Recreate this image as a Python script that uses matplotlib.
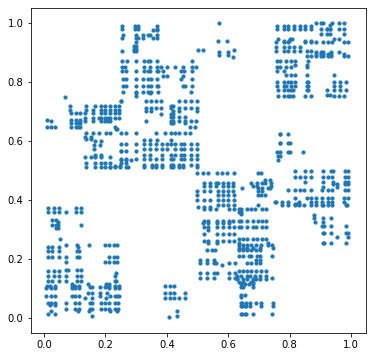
import numpy as np
import matplotlib
matplotlib.use('Agg')
import matplotlib.pyplot as plt

# each block: one y value per row, and the x values found on that row
low_left_y = [.372, .358, .332, .327, .316, .305, .267, .247, .24, .229, .207, .19, .164, .159, .152,
              .142, .125, .116, .11, .107, .103, .085, .076, .069, .051, .045, .03, .026, .0135, .007]
low_left_x = [
    [.013, .031, .049, .105, .119],
    [.013, .031, .049, .072, .105, .119],
    [.027, .040],
    [.046],
    [.027, .040, .046, .119],
    [.040, .046],
    [.052],
    [.072, .108, .148, .200, .211, .227, .239],
    [.013, .027, .049, .111],
    [.013, .027, .049, .108, .114],
    [.013, .027, .049, .072, .108, .114, .211, .227, .239],
    [.072, .200, .211, .227, .239],
    [.072, .079, .108, .119],
    [.013, .031, .049],
    [.236],
    [.013, .031, .049, .072, .108, .119, .230],
    [.013, .027, .049, .072, .108, .119, .230, .236],
    [.090, .144, .203, .213],
    [.010, .021, .037, .090, .101, .114, .205, .213, .230, .244],
    [.157, .151, .181, .200],
    [.008, .023, .037, .090, .101, .114, .213, .230, .244],
    [.144, .157, .181, .205],
    [.008, .023, .037, .090, .101, .114, .181, .215, .230, .244, .239],
    [.157, .134, .203],
    [.013, .037, .023, .072, .101, .114, .151, .157, .184, .200, .213, .230, .242],
    [.019, .037],
    [.072, .101, .114, .151, .157, .184, .200, .213, .230, .242],
    [.023, .111, .148, .215, .239],
    [.013, .037],
    [.157],
]

mid_left_y = [.748, .735, .72, .719, .705, .694, .678, .672, .667, .66, .647, .642, .626, .612, .608, .601,
              .586, .572, .565, .552, .545, .536, .525, .516, .511]
mid_left_x = [
    [.068],
    [.251],
    [.137, .166, .186, .199, .215, .231, .244],
    [.085],
    [.085, .137, .160, .186, .199, .215, .231, .244],
    [.088, .104, .117, .134, .160, .186, .199, .215, .231, .244],
    [.134, .160, .179, .186, .199, .208, .215, .231, .244],
    [.010, .088, .104, .117],
    [.023, .134, .160, .186, .199, .208, .215],
    [.088, .104, .114, .117],
    [.010, .023, .036, .088, .104, .111, .117, .231],
    [.238, .235],
    [.137, .160, .179, .202, .215],
    [.134, .153],
    [.137, .153],
    [.166, .186],
    [.163, .183],
    [.163],
    [.251],
    [.166, .186],
    [.134, .153, .166, .186, .215],
    [.251, .267, .284],
    [.137, .166, .186, .199, .215, .252, .267],
    [.231, .248],
    [.137, .166, .186, .199, .215, .248, .267, .274],
]

upper_mid_y = [.999, .99, .98, .974, .96, .948, .938, .934, .92, .911, .909, .903, .901, .891, .884, .869, .85, .837,
               .82, .811, .785, .767, .762, .752, .736, .719, .71, .70, .692, .681, .667, .661, .647, .626,
               .604, .589, .572, .565, .552, .539, .52, .513, .491]
upper_mid_x = [
    [.571],
    [.255, .296, .307, .369],
    [.255, .296, .307, .369],
    [.356, .369],
    [.258, .298, .324, .340, .346, .369],
    [.255, .298, .307, .324, .356, .369],
    [.568, .597],
    [.301],
    [.294, .301],
    [.294, .301],
    [.503, .519, .620],
    [.255, .294, .301],
    [.571, .600],
    [.571, .600],
    [.617],
    [.255, .269, .301, .327, .340, .346, .369, .483],
    [.255, .265, .327, .346, .369, .382, .402, .428, .454, .483, .496],
    [.255, .268, .298, .327, .340, .346, .369, .372, .389, .447, .457, .483],
    [.389, .402, .454],
    [.258, .268, .298, .324, .340, .350, .369, .447, .483],
    [.258, .268, .298, .324, .340, .350, .369, .372, .454, .460, .483],
    [.258, .298, .324, .340, .350, .372, .480],
    [.298, .346],
    [.298],
    [.252, .333, .350, .366, .382, .438, .460, .480, .499],
    [.415, .421],
    [.333, .350, .366, .382, .415, .438, .460, .480, .499],
    [.333, .350, .421, .438, .499],
    [.382, .415, .421],
    [.415, .421, .438, .460],
    [.333, .415, .421, .438, .460, .480, .496],
    [.415, .421, .460],
    [.477, .493],
    [.252, .268, .301, .366, .395, .412, .428, .441, .460, .477],
    [.327, .346, .369, .415],
    [.252, .268, .301, .327, .346, .366, .385, .402, .415, .428, .447, .457, .480, .499],
    [.327, .346, .366, .385, .402, .428, .447, .457, .480, .499],
    [.252, .268, .301],
    [.327, .346, .385, .415, .428, .447, .457, .480, .499],
    [.252, .268, .301, .327, .346, .366, .385, .412, .421, .447, .457, .480, .499],
    [.327, .353, .366, .385, .412, .421, .441, .454, .480, .499],
    [.215, .232, .327, .353, .366, .385, .412, .421, .441, .454, .499],
    [.499, .519, .535, .565, .581, .597, .618, .698, .708],
]

low_mid_y = [.468, .457, .448, .441, .431, .418, .40, .393, .384, .378, .369, .358, .352, .33, .322, .31, .30, .284,
             .267, .26, .254, .248, .239, .23, .21, .198, .188, .179, .159, .152, .144, .137, .132, .122, .117,
             .109, .106, .087, .079, .071, .07, .05, .04, .024, .0135, .007, .003]
low_mid_x = [
    [.721, .737],
    [.522, .539, .561, .568, .584, .600, .617, .675, .695, .711, .721, .740],
    [.522, .539, .561, .584, .600, .617, .679, .695, .740],
    [.646, .698, .711, .728, .737],
    [.499, .522, .539, .568, .584, .600, .617, .698, .711],
    [.499, .568, .584, .600, .620, .698, .708, .721],
    [.499, .522, .539, .568, .584, .600, .620],
    [.753],
    [.568, .584, .600, .620, .698],
    [.503, .522, .539],
    [.522, .539, .561, .604, .620, .636, .643, .662, .675, .688, .711, .724],
    [.636, .643],
    [.643],
    [.522, .535, .565, .584, .604, .617, .636, .643, .662, .679, .698, .711, .724],
    [.519, .535, .565, .584, .604],
    [.522, .535, .565, .584, .604, .620, .636, .643, .662, .679, .692, .711, .724],
    [.535],
    [.522, .565, .584, .604, .620],
    [.636, .649, .662, .679, .695, .711, .724],
    [.522, .535, .565, .584, .604, .620],
    [.535, .565, .636, .731],
    [.636, .649, .662, .675, .692, .708, .731, .744],
    [.636, .649, .662, .679, .705, .747],
    [.532, .548, .558, .636, .649, .662, .675, .692, .705],
    [.636, .649, .669, .675, .695, .705, .744],
    [.508, .532, .555, .692, .705],
    [.508, .532, .555, .561, .604, .623, .662, .675, .692, .705],
    [.581],
    [.636, .649, .662, .675, .692, .708, .724],
    [.508, .532, .555, .565, .604, .623],
    [.630, .643, .662, .672, .688, .705, .724],
    [.508, .532, .555, .604, .623, .630, .744],
    [.630, .649, .662, .679, .692, .705, .724],
    [.636, .649, .675, .682],
    [.643, .653, .666, .682],
    [.395, .411, .424],
    [.643, .649, .682],
    [.395, .411, .424, .460],
    [.640, .656],
    [.640],
    [.395, .411, .424, .441, .460],
    [.640, .646, .659, .672, .692, .708, .747],
    [.640, .646, .653, .659, .672, .708, .747],
    [.434],
    [.640, .646, .653, .659, .682, .744],
    [.434],
    [.408],
]

top_right_y = [.999, .993, .988, .98, .978, .963, .945, .94, .934, .918, .905, .90, .893, .887, .871, .858, .85,
               .836, .823, .80, .785, .772, .755, .752]
top_right_x = [
    [.887, .903, .910, .939, .962, .978],
    [.933],
    [.760, .780, .796, .815, .835, .851, .868],
    [.760, .780, .796, .815, .835, .851, .868, .923, .933],
    [.903, .920, .930, .962, .978],
    [.903, .920, .930, .978],
    [.763, .809, .802, .946, .962],
    [.780, .799, .851, .871],
    [.754, .780, .796, .851, .871, .887, .907, .926, .939, .978, .991],
    [.754, .780, .799, .815, .835],
    [.754, .780, .796, .815, .835, .855, .871],
    [.887, .903, .910, .936, .962],
    [.887, .903, .910, .926, .936, .978],
    [.855, .871, .887, .903, .910, .926, .936, .978, .991],
    [.760, .770, .789, .805, .819, .861],
    [.819, .858],
    [.760, .770, .789, .805, .858],
    [.760, .783],
    [.789, .805, .819, .858, .943],
    [.760, .783, .793, .805, .819, .855, .861, .946, .965, .982],
    [.760, .783, .789, .805, .819, .855, .861, .946, .965],
    [.763, .783, .796, .805, .812, .855, .861, .923, .946, .965, .982],
    [.920, .930],
    [.763, .780, .796, .802, .812, .851, .871, .946, .962, .978],
]

right_y = [.623, .593, .562, .549, .535, .498, .477, .46, .453, .444, .434, .406, .394, .388, .383, .35, .339, .325,
           .311, .288, .274, .254]
right_x = [
    [.767, .770, .793],
    [.767, .770, .793, .802],
    [.760, .770, .793, .802, .842],
    [.763, .767],
    [.763],
    [.819, .851, .871, .907, .936, .942, .981, .991],
    [.819, .835, .851, .871, .907, .926, .939, .981, .991],
    [.851, .907, .942, .981, .991],
    [.942, .955, .981, .991],
    [.907, .955],
    [.796, .819, .835, .848, .871, .904, .926, .939, .981, .991],
    [.819, .855, .871, .887, .904, .926, .939, .978, .991],
    [.754, .776, .796, .832, .871, .887, .904, .926, .939, .978],
    [.819, .825, .832],
    [.776, .796, .819, .832, .848, .871, .887, .904, .910, .926, .939, .985, .988],
    [.878],
    [.878, .910, .936],
    [.881, .910],
    [.904, .913, .936, .985],
    [.907, .913, .936, .985, .991],
    [.955, .991],
    [.907, .913, .936, .985],
]


def flatten(row_y, row_x):
    ys = np.repeat(row_y, [len(r) for r in row_x])
    xs = np.concatenate(row_x)
    return xs, ys


x_parts, y_parts = [], []
for row_y, row_x in [(low_left_y, low_left_x), (mid_left_y, mid_left_x), (upper_mid_y, upper_mid_x),
                     (low_mid_y, low_mid_x), (top_right_y, top_right_x), (right_y, right_x)]:
    xs, ys = flatten(row_y, row_x)
    x_parts.append(xs)
    y_parts.append(ys)

fig = plt.figure(figsize=(372 / 72, 357 / 72), dpi=72)
ax = fig.add_axes([30.5 / 372, (357 - 333) / 357, 335 / 372, 325 / 357])
ax.scatter(np.concatenate(x_parts), np.concatenate(y_parts), s=10)
ax.set_xlim(-0.044, 1.047)
ax.set_ylim(-0.05, 1.05)
fig.savefig('out.png', dpi=72)
